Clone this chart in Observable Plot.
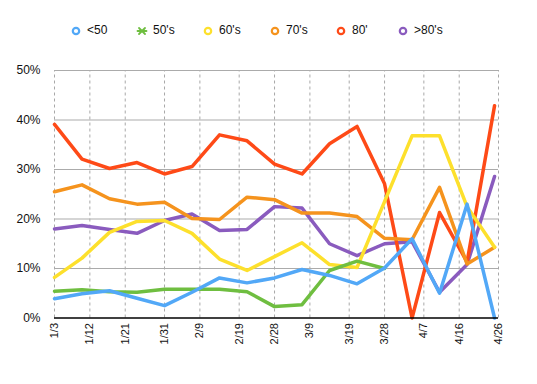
<!DOCTYPE html>
<html>
<head>
<meta charset="utf-8">
<script src="https://cdn.jsdelivr.net/npm/d3@7"></script>
<script src="https://cdn.jsdelivr.net/npm/@observablehq/plot@0.6"></script>
<style>
  html, body { margin: 0; padding: 0; background: #fff; }
  body { width: 537px; height: 384px; overflow: hidden; font-family: "Liberation Sans", Arial, Helvetica, sans-serif; }
  #legend { position: relative; height: 50px; width: 537px; }
  .item { position: absolute; top: 22px; font-size: 12px; color: #111; line-height: 16px; white-space: nowrap; }
  .item svg { position: absolute; }
</style>
</head>
<body>
<div id="legend"></div>
<div id="chart"></div>
<script>
// ---- data ----
const seriesNames = ["<50", "50's", "60's", "70's", "80'", ">80's"];
const seriesColors = ["#52A8F7", "#6FBE40", "#FDE02C", "#F5931D", "#FE4A17", "#8A5BBE"];
const dates = ["2021-01-03","2021-01-10","2021-01-17","2021-01-24","2021-01-31","2021-02-07","2021-02-14","2021-02-21","2021-02-28","2021-03-07","2021-03-14","2021-03-21","2021-03-28","2021-04-04","2021-04-11","2021-04-18","2021-04-25"];
const under50 = [3.9, 4.9, 5.5, 4.0, 2.5, 5.2, 8.1, 7.1, 8.1, 9.8, 8.6, 6.9, 10.1, 16.0, 5.0, 23.0, 0];
const fifties = [5.4, 5.7, 5.3, 5.2, 5.8, 5.8, 5.8, 5.3, 2.3, 2.7, 9.6, 11.5, 10.0];
const sixties = [8.2, 12.1, 17.3, 19.5, 19.7, 17.1, 11.9, 9.6, 12.4, 15.2, 10.8, 10.2, 23.5, 36.8, 36.8, 22.5, 14.3];
const seventies = [25.5, 26.9, 24.1, 23.0, 23.4, 20.1, 19.9, 24.4, 23.9, 21.2, 21.2, 20.5, 16.1, 15.8, 26.4, 10.9, 14.3];
const eighties = [39.1, 32.1, 30.2, 31.4, 29.1, 30.6, 37.0, 35.8, 31.1, 29.1, 35.2, 38.7, 27.1, 0, 21.3, 11.3, 42.9];
const over80 = [18.0, 18.7, 17.9, 17.1, 19.7, 21.0, 17.7, 17.9, 22.5, 22.2, 15.0, 12.6, 15.0, 15.4, 5.2, 10.8, 28.6];
const tickDateStrings = ["2021-01-03","2021-01-12","2021-01-21","2021-01-31","2021-02-09","2021-02-19","2021-02-28","2021-03-09","2021-03-19","2021-03-28","2021-04-07","2021-04-16","2021-04-26"];
const tickLabels = ["1/3","1/12","1/21","1/31","2/9","2/19","2/28","3/9","3/19","3/28","4/7","4/16","4/26"];
const yTicks = [0, 10, 20, 30, 40, 50];

// ---- build ----
const allSeries = [under50, fifties, sixties, seventies, eighties, over80];
const rows = [];
allSeries.forEach((vals, s) => vals.forEach((v, i) => rows.push({series: seriesNames[s], date: new Date(dates[i]), value: v})));
const tickDates = tickDateStrings.map(d => new Date(d));
const labelOf = new Map(tickDates.map((d, i) => [+d, tickLabels[i]]));

// legend
const legendX = [76, 142, 208, 275, 341, 403];
const legend = document.getElementById("legend");
seriesNames.forEach((name, i) => {
  const div = document.createElement("div");
  div.className = "item";
  div.style.left = (legendX[i] - 6) + "px";
  const c = seriesColors[i];
  let sym;
  if (i === 1) {
    sym = `<svg width="12" height="12" style="left:0;top:3px"><g stroke="${c}" stroke-width="1.8" stroke-linecap="round"><line x1="1.5" y1="6" x2="10.5" y2="6"/><line x1="3" y1="3" x2="9" y2="9"/><line x1="3" y1="9" x2="9" y2="3"/></g></svg>`;
  } else {
    sym = `<svg width="12" height="12" style="left:0;top:3px"><circle cx="6" cy="6" r="3.2" fill="#fff" stroke="${c}" stroke-width="2.2"/></svg>`;
  }
  div.innerHTML = sym + `<span style="margin-left:${i === 5 ? 17 : 17}px">${name}</span>`;
  legend.appendChild(div);
});

const order = [5, 4, 3, 2, 1, 0]; // first series on top
const chart = Plot.plot({
  width: 537,
  height: 334,
  marginTop: 20,
  marginBottom: 66.5,
  marginLeft: 54,
  marginRight: 39,
  style: {fontFamily: "Liberation Sans, Arial, sans-serif", background: "#fff", color: "#111"},
  x: {type: "utc", domain: [new Date("2021-01-03"), new Date("2021-04-26")]},
  y: {domain: [0, 50]},
  color: {domain: seriesNames, range: seriesColors},
  marks: [
    Plot.ruleX(tickDates, {stroke: "#a8a8a8", strokeWidth: 1, strokeDasharray: "3,3", y1: 0, y2: 50}),
    Plot.ruleY(yTicks.filter(d => d > 0), {stroke: "#ababab", strokeWidth: 1}),
    Plot.axisY({ticks: yTicks, tickSize: 0, tickPadding: 14, fontSize: 12, tickFormat: d => d + "%", label: null}),
    Plot.axisX({ticks: tickDates, tickSize: 0, tickPadding: 5, tickRotate: -90, fontSize: 11, tickFormat: d => labelOf.get(+d), label: null}),
    ...order.map(s => Plot.line(rows.filter(r => r.series === seriesNames[s]), {
      x: "date", y: "value", stroke: seriesColors[s], strokeWidth: 3.5, strokeLinejoin: "round", strokeLinecap: "round"
    })),
    Plot.ruleY([0], {stroke: "#000", strokeWidth: 1.5})
  ]
});
document.getElementById("chart").appendChild(chart);
</script>
</body>
</html>
